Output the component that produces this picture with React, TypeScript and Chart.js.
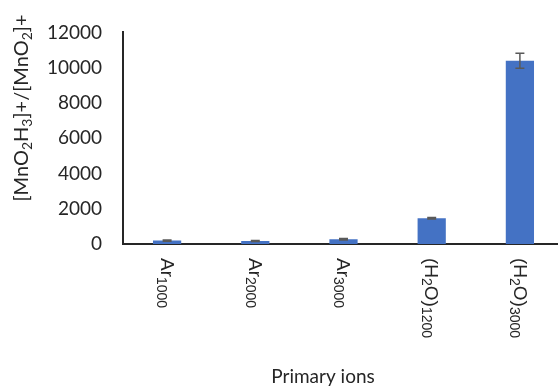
import React, { useEffect, useRef } from "react";
import { Chart, registerables } from "chart.js";

Chart.register(...registerables);

const categories = ["Ar1000", "Ar2000", "Ar3000", "(H2O)1200", "(H2O)3000"];
// rich label parts: [text, isSubscript]
const labelParts: Array<Array<[string, boolean]>> = [
  [["Ar", false], ["1000", true]],
  [["Ar", false], ["2000", true]],
  [["Ar", false], ["3000", true]],
  [["(H", false], ["2", true], ["O)", false], ["1200", true]],
  [["(H", false], ["2", true], ["O)", false], ["3000", true]],
];
const ratioValues = [195, 175, 265, 1460, 10390];
const ratioErrors = [35, 30, 40, 40, 430];
const yTitleParts: Array<[string, boolean]> = [
  ["[MnO", false], ["2", true], ["H", false], ["3", true], ["]+/[MnO", false], ["2", true], ["]+", false],
];
const xTitle = "Primary ions";

const MAIN_FONT = "Lato, 'Open Sans', sans-serif";
const LABEL_FONT = "'Liberation Sans', Arial, sans-serif";

function drawRich(
  ctx: CanvasRenderingContext2D,
  parts: Array<[string, boolean]>,
  mainSize: number,
  subSize: number,
  family: string,
  align: "start" | "center"
) {
  let total = 0;
  for (const [t, sub] of parts) {
    ctx.font = `${sub ? subSize : mainSize}px ${family}`;
    total += ctx.measureText(t).width;
  }
  let x = align === "center" ? -total / 2 : 0;
  for (const [t, sub] of parts) {
    ctx.font = `${sub ? subSize : mainSize}px ${family}`;
    ctx.fillText(t, x, sub ? mainSize * 0.25 : 0);
    x += ctx.measureText(t).width;
  }
}

const customPlugin = {
  id: "custom",
  afterDatasetsDraw(chart: any) {
    const ctx: CanvasRenderingContext2D = chart.ctx;
    const x = chart.scales.x;
    const y = chart.scales.y;
    ctx.save();
    ctx.strokeStyle = "#595959";
    ctx.lineWidth = 1.5;
    ratioValues.forEach((v, i) => {
      const px = x.getPixelForValue(i);
      const top = y.getPixelForValue(v + ratioErrors[i]);
      const bot = y.getPixelForValue(v - ratioErrors[i]);
      ctx.beginPath();
      ctx.moveTo(px, top);
      ctx.lineTo(px, bot);
      ctx.moveTo(px - 4.5, top);
      ctx.lineTo(px + 4.5, top);
      ctx.moveTo(px - 4.5, bot);
      ctx.lineTo(px + 4.5, bot);
      ctx.stroke();
    });
    ctx.restore();
  },
  afterDraw(chart: any) {
    const ctx: CanvasRenderingContext2D = chart.ctx;
    const x = chart.scales.x;
    const area = chart.chartArea;
    ctx.save();
    ctx.fillStyle = "#262626";
    ctx.textBaseline = "middle";
    ctx.textAlign = "left";
    labelParts.forEach((parts, i) => {
      const px = x.getPixelForValue(i);
      ctx.save();
      ctx.translate(px - 1, area.bottom + 14);
      ctx.rotate(Math.PI / 2);
      drawRich(ctx, parts, 19, 14, LABEL_FONT, "start");
      ctx.restore();
    });
    ctx.restore();
    ctx.save();
    ctx.fillStyle = "#262626";
    ctx.textBaseline = "middle";
    ctx.textAlign = "left";
    ctx.translate(22, 108);
    ctx.rotate(-Math.PI / 2);
    drawRich(ctx, yTitleParts, 20, 14, MAIN_FONT, "center");
    ctx.restore();
    ctx.save();
    ctx.fillStyle = "#262626";
    ctx.font = `19px ${MAIN_FONT}`;
    ctx.textAlign = "center";
    ctx.textBaseline = "alphabetic";
    ctx.fillText(xTitle, 323, 383);
    ctx.restore();
  },
};

export default function App() {
  const ref = useRef<HTMLCanvasElement | null>(null);
  useEffect(() => {
    if (!ref.current) return;
    const chart = new Chart(ref.current, {
      type: "bar",
      data: {
        labels: categories,
        datasets: [
          {
            data: ratioValues,
            backgroundColor: "#4472C4",
            borderWidth: 0,
            barPercentage: 0.32,
            categoryPercentage: 1,
          },
        ],
      },
      options: {
        animation: false,
        responsive: false,
        devicePixelRatio: 1,
        layout: { padding: { left: 0, top: 20, right: 6, bottom: 0 } },
        plugins: {
          legend: { display: false },
          tooltip: { enabled: false },
        },
        scales: {
          x: {
            grid: { display: false, drawTicks: false },
            border: { display: true, color: "#262626", width: 2 },
            ticks: { display: false },
            afterFit: (s: any) => {
              s.height = 146;
            },
          },
          y: {
            min: 0,
            max: 12000,
            grid: { display: false, drawTicks: false },
            border: { display: true, color: "#262626", width: 2 },
            ticks: {
              stepSize: 2000,
              padding: 21,
              color: "#262626",
              font: { family: MAIN_FONT, size: 19 },
              callback: (v: any) => String(v),
            },
            afterFit: (s: any) => {
              s.width = 123;
            },
          },
        },
      },
      plugins: [customPlugin],
    });
    return () => chart.destroy();
  }, []);
  return (
    <div
      style={{
        position: "fixed",
        left: 0,
        top: 0,
        width: 558,
        height: 390,
        overflow: "hidden",
        background: "#fff",
      }}
    >
      <canvas ref={ref} width={570} height={390} style={{ width: 570, height: 390, display: "block" }} />
    </div>
  );
}
